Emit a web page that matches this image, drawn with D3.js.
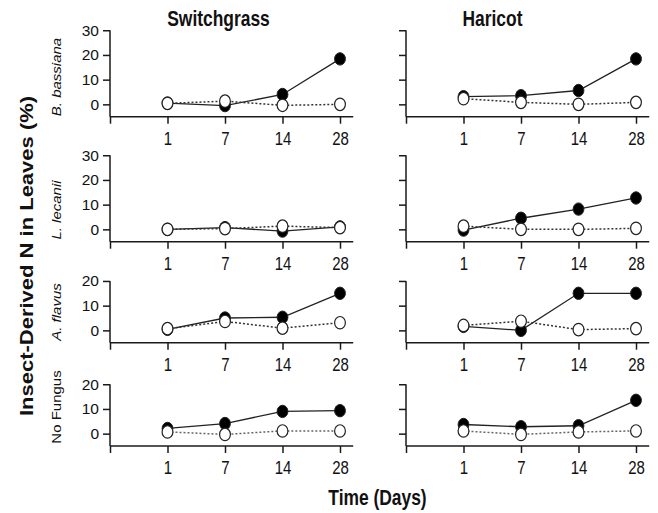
<!DOCTYPE html>
<html>
<head>
<meta charset="utf-8">
<script src="https://cdn.jsdelivr.net/npm/d3@7"></script>
<style>
  body { margin: 0; background: #fff; }
  svg { display: block; }
  text { font-family: "Liberation Sans", Arial, Helvetica, sans-serif; fill: #111; }
</style>
</head>
<body>
<svg id="chart" width="658" height="513"></svg>
<script>
// ---------------- data ----------------
const days = ["1", "7", "14", "28"];
const plants = ["Switchgrass", "Haricot"];
const fungi = ["B. bassiana", "L. lecanii", "A. flavus", "No Fungus"];
const fungiItalic = [true, true, true, false];
const yTicksTall = [0, 10, 20, 30];
const yTicksShort = [0, 10, 20];

// filled circles (solid line) and open circles (dotted line), rows = fungi
const switchgrassFilled = [
  [0.5, -0.5, 4.0, 18.4],
  [0.0, 0.7, -0.7, 1.0],
  [0.4, 5.0, 5.3, 15.0],
  [2.1, 4.1, 9.0, 9.3]
];
const switchgrassOpen = [
  [0.4, 1.3, -0.4, 0.0],
  [0.0, 0.3, 1.3, 0.7],
  [0.7, 3.6, 0.9, 3.1],
  [0.7, -0.3, 1.1, 1.1]
];
const haricotFilled = [
  [3.1, 3.5, 5.6, 18.4],
  [-0.3, 4.5, 8.2, 12.7],
  [1.6, 0.0, 15.0, 15.0],
  [3.7, 2.8, 3.2, 13.5]
];
const haricotOpen = [
  [2.3, 0.8, 0.0, 0.8],
  [1.3, 0.0, 0.0, 0.4],
  [2.0, 3.7, 0.3, 0.7],
  [1.1, -0.3, 0.7, 1.1]
];

// ---------------- layout ----------------
const svg = d3.select("#chart");
const colLeft = [110, 406];         // y-axis position of each column
const colStep = 57.5;               // spacing of day positions
const rowBottom = [116.7, 241.7, 342.7, 446];
const rowMax = [30, 30, 20, 20];
const pxPerUnit = 2.47;
const yMin = -5;
const axisColor = "#1a1a1a";
const narrow = 0.81;                // horizontal squeeze of the condensed labels

const filledData = [switchgrassFilled, haricotFilled];
const openData = [switchgrassOpen, haricotOpen];

for (let c = 0; c < 2; c++) {
  const x = d3.scaleLinear().domain([0, 4.23]).range([colLeft[c], colLeft[c] + 4.23 * colStep]);
  for (let r = 0; r < 4; r++) {
    const yTop = rowBottom[r] - (rowMax[r] - yMin) * pxPerUnit;
    const y = d3.scaleLinear().domain([yMin, rowMax[r]]).range([rowBottom[r], yTop]);
    const g = svg.append("g");
    const ticks = rowMax[r] === 30 ? yTicksTall : yTicksShort;

    // y axis
    const yAxis = d3.axisLeft(y).tickValues(ticks).tickSize(7).tickPadding(4)
      .tickFormat(c === 0 ? d3.format("d") : () => "");
    const ya = g.append("g").attr("transform", `translate(${colLeft[c]},0)`).call(yAxis);
    ya.select(".domain").attr("d", `M0,${y(rowMax[r])}V${rowBottom[r]}`);
    ya.selectAll("text").attr("font-size", 15.5).attr("fill", "#111")
      .style("font-family", '"Liberation Sans", Arial, sans-serif');

    // x axis
    const xAxis = d3.axisBottom(x).tickValues([0, 1, 2, 3, 4]).tickSize(7).tickPadding(8)
      .tickFormat(i => i === 0 ? "" : days[i - 1]);
    const xa = g.append("g").attr("transform", `translate(0,${rowBottom[r]})`).call(xAxis);
    xa.select(".domain").attr("d", `M${x(0)},0H${x(4.23)}`);
    xa.selectAll("text").attr("font-size", 18.5).attr("fill", "#111")
      .attr("transform", `scale(${narrow},1)`)
      .style("font-family", '"Liberation Sans", Arial, sans-serif');

    [ya, xa].forEach(a => {
      a.selectAll("path, line").attr("stroke", axisColor).attr("stroke-width", 1.5);
    });

    const fVals = filledData[c][r];
    const oVals = openData[c][r];
    const line = d3.line().x((d, i) => x(i + 1)).y(d => y(d));

    g.append("path").attr("d", line(fVals)).attr("fill", "none")
      .attr("stroke", "#222").attr("stroke-width", 1.3);
    g.append("path").attr("d", line(oVals)).attr("fill", "none")
      .attr("stroke", r === 3 ? "#666" : "#333").attr("stroke-width", 1.5)
      .attr("stroke-dasharray", "2,2");

    g.selectAll(".f").data(fVals).enter().append("ellipse")
      .attr("cx", (d, i) => x(i + 1)).attr("cy", d => y(d))
      .attr("rx", 5.4).attr("ry", 6.2)
      .attr("fill", "#000").attr("stroke", "#222").attr("stroke-width", 1);
    g.selectAll(".o").data(oVals).enter().append("ellipse")
      .attr("cx", (d, i) => x(i + 1)).attr("cy", d => y(d))
      .attr("rx", 5.4).attr("ry", 6.2)
      .attr("fill", "#fff").attr("stroke", "#222").attr("stroke-width", 1.2);
  }
}

// column titles
const titleX = [218.5, 492.5];
plants.forEach((p, i) => {
  svg.append("text")
    .attr("transform", `translate(${titleX[i]},25.7) scale(${narrow},1)`)
    .attr("text-anchor", "middle").attr("font-size", 21.5).attr("font-weight", "bold")
    .text(p);
});

// row labels
const rowLabelY = [77, 210, 312, 407];
fungi.forEach((f, i) => {
  svg.append("text")
    .attr("transform", `translate(60.5,${rowLabelY[i]}) scale(0.85,1) rotate(-90)`)
    .attr("text-anchor", "middle").attr("font-size", 15)
    .attr("font-style", fungiItalic[i] ? "italic" : "normal")
    .text(f);
});

// axis titles
svg.append("text")
  .attr("transform", "translate(32.5,256) scale(0.82,1) rotate(-90)")
  .attr("text-anchor", "middle").attr("font-size", 22).attr("font-weight", "bold")
  .text("Insect-Derived N in Leaves (%)");
svg.append("text")
  .attr("transform", `translate(377.5,505) scale(${narrow},1)`)
  .attr("text-anchor", "middle").attr("font-size", 21.5).attr("font-weight", "bold")
  .text("Time (Days)");
</script>
</body>
</html>
